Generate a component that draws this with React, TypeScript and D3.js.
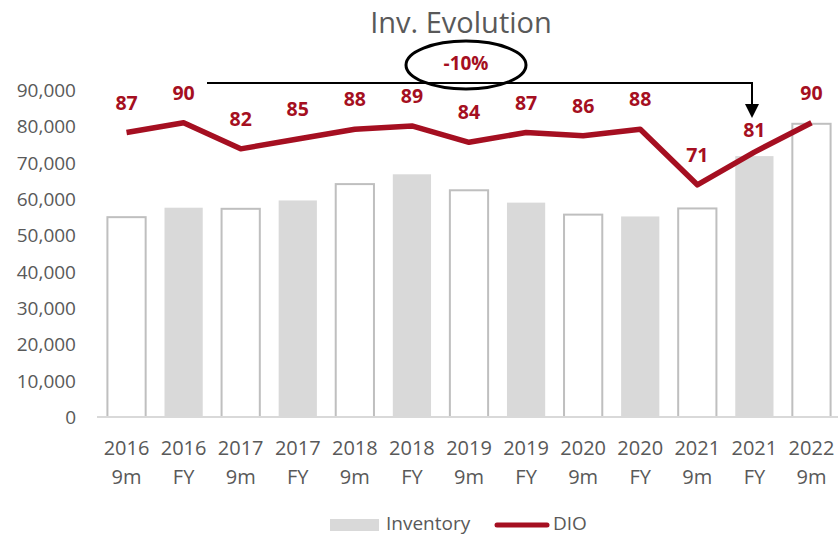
import React from 'react'
import * as d3 from 'd3'

const years = ['2016', '2016', '2017', '2017', '2018', '2018', '2019', '2019', '2020', '2020', '2021', '2021', '2022']
const periods = ['9m', 'FY', '9m', 'FY', '9m', 'FY', '9m', 'FY', '9m', 'FY', '9m', 'FY', '9m']
const inventory = [55000, 57600, 57300, 59600, 64100, 66800, 62400, 59000, 55700, 55200, 57400, 71800, 80700]
const dio = [87, 90, 82, 85, 88, 89, 84, 87, 86, 88, 71, 81, 90]
const yTicks = [0, 10000, 20000, 30000, 40000, 50000, 60000, 70000, 80000, 90000]

const W = 838
const H = 537
const font = "'Open Sans', sans-serif"
const grey = '#595959'
const red = '#A50F21'

export default function App() {
  const idx = d3.range(years.length).map(String)

  const x = d3.scaleBand().domain(idx).range([98, 840]).paddingInner(0.33).paddingOuter(0.165)
  const y = d3.scaleLinear().domain([0, 90000]).range([417, 90])
  // DIO sits on a hidden secondary axis
  const y2 = d3.scaleLinear().domain([0, 100]).range([417, 90])
  const cx = (i: number) => (x(String(i)) as number) + x.bandwidth() / 2

  const dioLine = d3.line<number>()
    .x((d, i) => cx(i))
    .y(d => y2(d))

  const fmt = d3.format(',')

  return (
    <svg width={W} height={H} style={{ position: 'absolute', left: 0, top: 0, background: '#fff' }} fontFamily={font}>
      <text x={461} y={33} textAnchor="middle" fontSize={29} fill={grey}>Inv. Evolution</text>

      {/* y axis labels */}
      {yTicks.map(t => (
        <text key={t} x={76} y={y(t) + 7} textAnchor="end" fontSize={19} fill={grey}>{fmt(t)}</text>
      ))}

      {/* bars */}
      {inventory.map((v, i) => {
        const fy = periods[i] === 'FY'
        return (
          <rect key={i}
            x={x(String(i))}
            y={y(v)}
            width={x.bandwidth()}
            height={y(0) - y(v)}
            fill={fy ? '#D9D9D9' : '#fff'}
            stroke={fy ? 'none' : '#BFBFBF'}
            strokeWidth={2} />
        )
      })}

      <line x1={97} x2={838} y1={y(0)} y2={y(0)} stroke="#D9D9D9" strokeWidth={2} />

      {/* x labels */}
      {years.map((yr, i) => (
        <g key={i}>
          <text x={cx(i)} y={455} textAnchor="middle" fontSize={20} fill={grey}>{yr}</text>
          <text x={cx(i)} y={484} textAnchor="middle" fontSize={20} fill={grey}>{periods[i]}</text>
        </g>
      ))}

      {/* DIO */}
      <path d={dioLine(dio) || ''} fill="none" stroke={red} strokeWidth={5.5} strokeLinejoin="round" />
      {dio.map((v, i) => (
        <text key={i} x={cx(i)} y={y2(v) - (i === 11 ? 15 : 23)} textAnchor="middle"
          fontSize={19.5} fontWeight="bold" fill={red}>{v}</text>
      ))}

      {/* annotation */}
      <path d="M207,83H752V106" fill="none" stroke="#000" strokeWidth={2} />
      <polygon points="745,104 759,104 752,118" fill="#000" />
      <ellipse cx={466} cy={65} rx={60} ry={24} fill="none" stroke="#000" strokeWidth={3} />
      <text x={466} y={70} textAnchor="middle" fontSize={19} fontWeight="bold" fill={red}>-10%</text>

      {/* legend */}
      <rect x={330} y={519} width={49} height={12} fill="#D9D9D9" />
      <text x={386} y={530} fontSize={19} fill={grey}>Inventory</text>
      <line x1={497} x2={547} y1={525} y2={525} stroke={red} strokeWidth={5} strokeLinecap="round" />
      <text x={553} y={530} fontSize={19} fill={grey}>DIO</text>
    </svg>
  )
}
